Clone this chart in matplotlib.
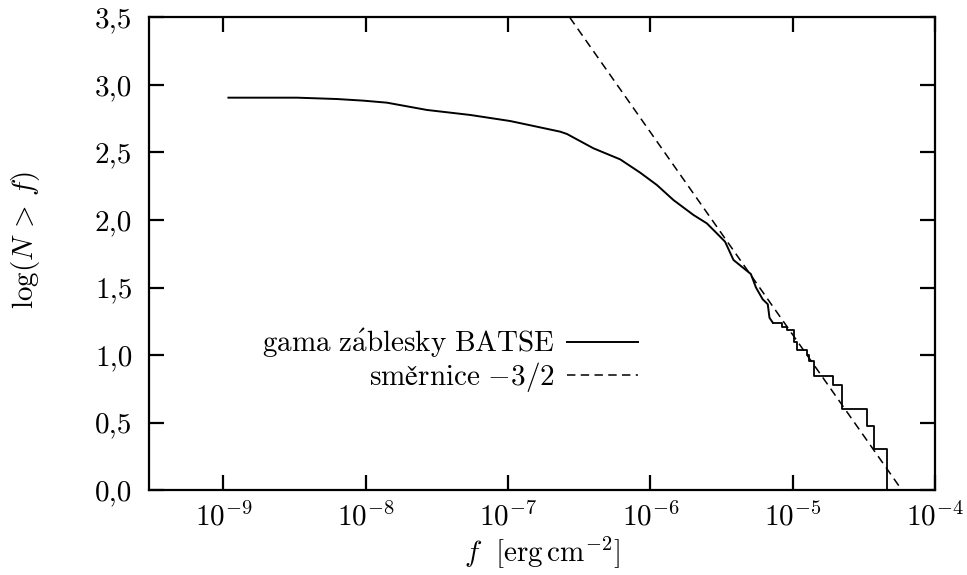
import numpy as np
import matplotlib
matplotlib.use("Agg")
import matplotlib.pyplot as plt

plt.rcParams['font.family'] = 'serif'
plt.rcParams['font.serif'] = ['cmr10', 'DejaVu Serif']
plt.rcParams['mathtext.fontset'] = 'cm'
plt.rcParams['axes.unicode_minus'] = False
plt.rcParams['axes.formatter.use_mathtext'] = True

# smooth (dense) part of the BATSE cumulative distribution, log10 f and log10 N(>f)
smooth_logf = [-8.965, -8.482, -8.202, -8.017, -7.851, -7.570, -7.266, -6.985,
               -6.797, -6.633, -6.586, -6.400, -6.212, -6.072, -5.954, -5.838,
               -5.697, -5.603, -5.533, -5.475, -5.416, -5.353, -5.294, -5.258,
               -5.211, -5.175, -5.163, -5.140]
smooth_logN = [2.906, 2.906, 2.896, 2.884, 2.869, 2.815, 2.778, 2.733,
               2.691, 2.654, 2.637, 2.531, 2.449, 2.351, 2.259, 2.148,
               2.037, 1.975, 1.901, 1.839, 1.704, 1.650, 1.600, 1.500,
               1.413, 1.376, 1.276, 1.240]
# sparse tail, drawn as a staircase
step_logf = [-5.140, -5.077, -5.041, -4.994, -4.970, -4.901, -4.883, -4.848,
             -4.718, -4.655, -4.480, -4.426, -4.335]
step_logN = [1.240, 1.205, 1.187, 1.100, 1.037, 1.000, 0.954, 0.845,
             0.778, 0.602, 0.477, 0.301, 0.0]

# two points of the -3/2 slope line (log10 f, log10 N)
slope_pts = [(-4.233, 0.0), (-6.233, 3.0)]

yticks = [0.0, 0.5, 1.0, 1.5, 2.0, 2.5, 3.0, 3.5]
ytick_labels = ['0,0', '0,5', '1,0', '1,5', '2,0', '2,5', '3,0', '3,5']
xticks = [1e-9, 1e-8, 1e-7, 1e-6, 1e-5, 1e-4]
xtick_labels = [r'$10^{-9}$', r'$10^{-8}$', r'$10^{-7}$', r'$10^{-6}$',
                r'$10^{-5}$', r'$10^{-4}$']

fig = plt.figure(figsize=(9.67, 5.75), dpi=100)
ax = fig.add_axes([0.1541, 0.1478, 0.8128, 0.8218])

fs = 21
line_solid, = ax.plot(10 ** np.array(smooth_logf), smooth_logN, color='black', lw=1.4)
ax.plot(10 ** np.array(step_logf), step_logN, color='black', lw=1.3,
        drawstyle='steps-post')
p1, p2 = slope_pts
line_dash = ax.axline((10 ** p1[0], p1[1]), (10 ** p2[0], p2[1]), color='black',
                      lw=1.1, dashes=(5.5, 3.5))

ax.set_xscale('log')
ax.set_xlim(3e-10, 1e-4)
ax.set_ylim(0, 3.5)
ax.set_xticks(xticks)
ax.set_xticklabels(xtick_labels)
ax.set_yticks(yticks)
ax.set_yticklabels(ytick_labels)
ax.minorticks_off()
ax.tick_params(direction='in', length=11, width=1.6, labelsize=fs,
               top=True, right=True)
ax.tick_params(axis='x', pad=9)
ax.tick_params(axis='y', pad=12)
for s in ax.spines.values():
    s.set_linewidth(1.6)

ax.set_xlabel(r'$f\ \ [\mathrm{erg\,cm}^{-2}]$', fontsize=fs, labelpad=2)
ax.set_ylabel(r'$\log(N\,>\,f)$', fontsize=fs)
ax.yaxis.set_label_coords(-0.136, 0.53)

labels = [r'$\mathrm{gama\ z\acute{a}blesky\ BATSE}$', r'$\mathrm{směrnice}\ {-}3/2$']
ax.legend([line_solid, line_dash], labels, loc='center right',
          bbox_to_anchor=(0.622, 0.274), frameon=False, markerfirst=False,
          fontsize=fs, handlelength=2.44, handletextpad=0.4, labelspacing=0.0,
          borderpad=0, borderaxespad=0)

fig.savefig('out.png', dpi=100)
